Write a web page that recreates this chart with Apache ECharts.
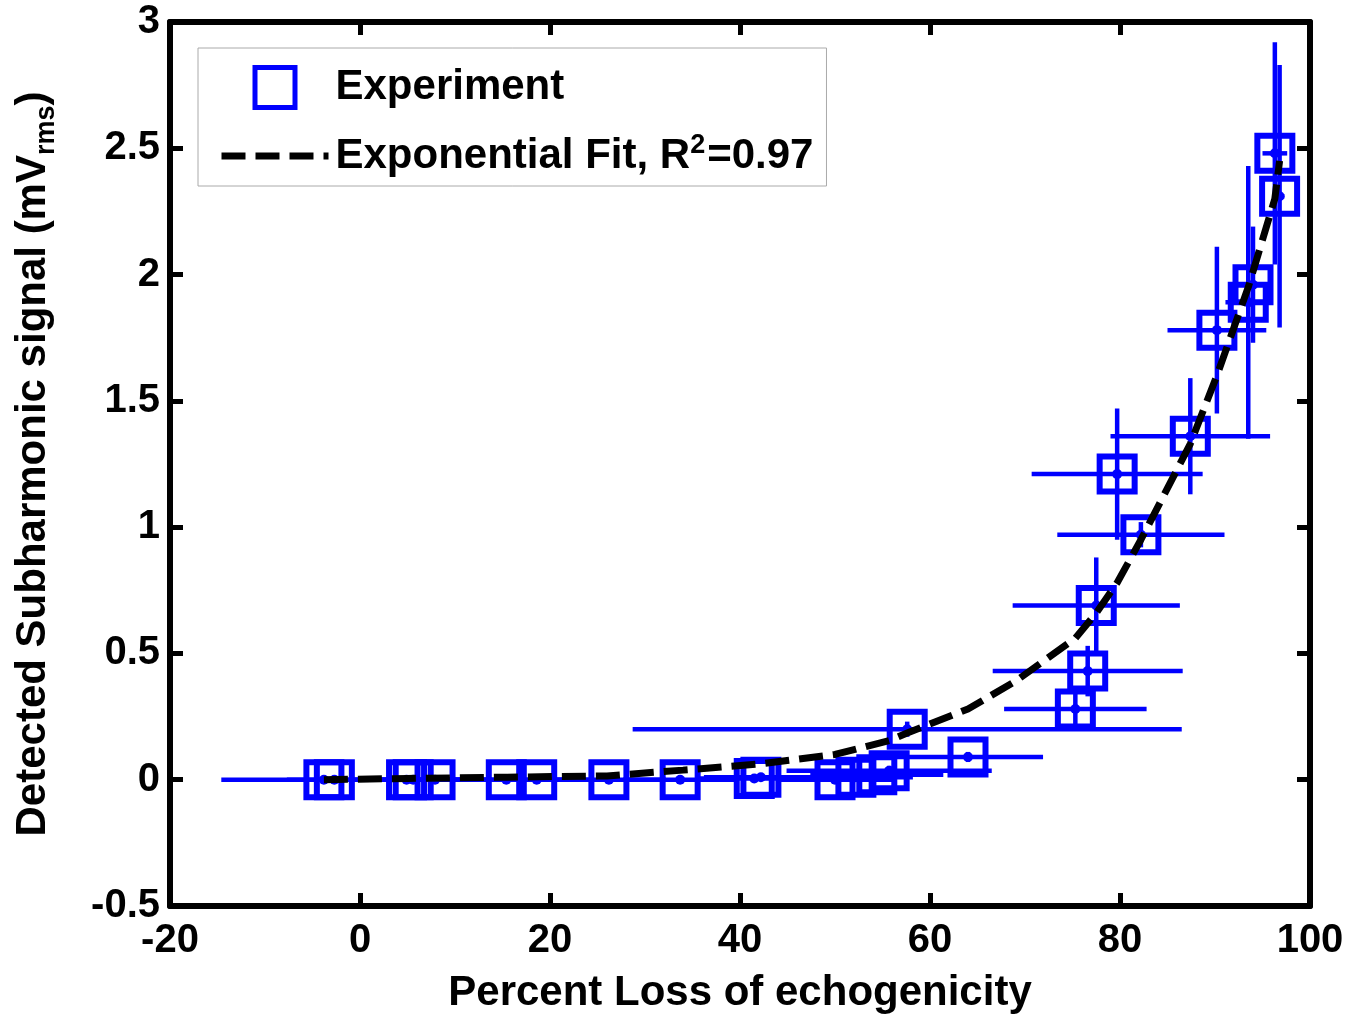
<!DOCTYPE html>
<html>
<head>
<meta charset="utf-8">
<script src="https://cdn.jsdelivr.net/npm/echarts@6/dist/echarts.min.js"></script>
<style>
  html, body { margin: 0; padding: 0; background: #fff; }
  #chart { width: 1363px; height: 1017px; }
</style>
</head>
<body>
<div id="chart"></div>
<script>
// measured points: percent loss, subharmonic signal (mVrms), and their error half-widths
const lossX = [-3.8, -2.7, 4.9, 5.6, 7.9, 15.4, 18.6, 26.2, 33.7, 41.5, 42.2, 50.0, 52.2, 54.4,
  55.7, 57.6, 64.0, 75.3, 76.6, 77.5, 79.7, 82.2, 87.4, 90.2, 93.5, 94.0, 96.3, 96.8];
const signalY = [0.0, 0.0, 0.0, 0.0, 0.0, 0.0, 0.0, 0.0, 0.0, 0.005, 0.01, 0.0, 0.01, 0.02,
  0.035, 0.2, 0.09, 0.28, 0.43, 0.69, 1.21, 0.97, 1.36, 1.78, 1.89, 1.96, 2.48, 2.31];
const lossErr = [10.8, 5, 6, 5, 6, 6, 6, 6, 6, 6, 6, 6, 6, 7,
  10.8, 28.9, 7.9, 7.5, 10, 8.8, 9, 8.8, 8.4, 5.2, 2.4, 1.5, 1.3, 0.5];
const signalErr = [0.01, 0.01, 0.01, 0.01, 0.01, 0.01, 0.01, 0.01, 0.01, 0.01, 0.01, 0.01, 0.01, 0.02,
  0.02, 0.03, 0.02, 0.06, 0.1, 0.19, 0.26, 0.05, 0.23, 0.33, 0.54, 0.23, 0.44, 0.52];

// exponential fit curve
const fitX = [-3.8, 5, 15.5, 26, 34, 42, 50, 55.7, 57.6, 64, 69, 75.3, 77.5, 79.7, 82.2, 87.4, 90.2, 93.5, 96.3, 96.8];
const fitY = [0.0, 0.005, 0.01, 0.015, 0.038, 0.062, 0.1, 0.155, 0.185, 0.28, 0.39, 0.56, 0.66, 0.78, 0.95, 1.33, 1.6, 1.95, 2.3, 2.45];

const FONT = '"Liberation Sans", Arial, sans-serif';
const chart = echarts.init(document.getElementById('chart'));

const errData = lossX.map((x, i) => [x, signalY[i], lossErr[i], signalErr[i]]);
const pointData = lossX.map((x, i) => [x, signalY[i]]);
const fitData = fitX.map((x, i) => [x, fitY[i]]);

const frameLine = { show: true, onZero: false, lineStyle: { color: '#000', width: 6 } };
const frameTick = { show: true, inside: true, length: 13, lineStyle: { color: '#000', width: 5 } };
const tickLabel = { fontSize: 40, fontWeight: 'bold', color: '#000', fontFamily: FONT };
const titleText = { fontSize: 42, fontWeight: 'bold', color: '#000', fontFamily: FONT };

let option = {
  animation: false,
  backgroundColor: '#fff',
  grid: { left: 170, right: 53, top: 22, bottom: 111, outerBoundsMode: 'none', containLabel: false },
  legend: {
    left: 198,
    top: 48,
    orient: 'vertical',
    padding: [17, 13, 9, 20],
    itemGap: 22,
    itemWidth: 107,
    itemHeight: 40,
    borderColor: '#aaa',
    borderWidth: 1,
    backgroundColor: '#fff',
    data: [
      { name: 'Experiment', icon: 'path://M0,0 L10,0 L10,10 L0,10 Z', itemStyle: { borderWidth: 5 } },
      { name: 'Exponential Fit, R2=0.97', lineStyle: { width: 7 } }
    ],
    formatter: function (name) {
      if (name === 'Experiment') return '{a|Experiment}';
      return '{a|Exponential Fit, R}{s|2}{a|=0.97}';
    },
    textStyle: {
      rich: {
        a: Object.assign({ lineHeight: 48, padding: [0, 0, 0, 2] }, titleText),
        s: { fontSize: 27, fontWeight: 'bold', color: '#000', fontFamily: FONT, lineHeight: 20, verticalAlign: 'top' }
      }
    }
  },
  xAxis: [{
    type: 'value',
    min: -20, max: 100, interval: 20,
    position: 'bottom',
    axisLine: frameLine,
    axisTick: frameTick,
    axisLabel: Object.assign({ margin: 15 }, tickLabel),
    splitLine: { show: false },
    name: 'Percent Loss of echogenicity',
    nameLocation: 'middle',
    nameGap: 66,
    nameTextStyle: titleText
  }, {
    type: 'value',
    min: -20, max: 100, interval: 20,
    position: 'top',
    axisLine: frameLine,
    axisTick: frameTick,
    axisLabel: { show: false },
    splitLine: { show: false }
  }],
  yAxis: [{
    type: 'value',
    min: -0.5, max: 3, interval: 0.5,
    position: 'left',
    axisLine: frameLine,
    axisTick: frameTick,
    axisLabel: Object.assign({ margin: 10 }, tickLabel),
    splitLine: { show: false },
    name: '{a|Detected Subharmonic signal (mV}{s|rms}{a|)}',
    nameLocation: 'middle',
    nameRotate: 90,
    nameGap: 110,
    nameTextStyle: {
      rich: {
        a: Object.assign({ lineHeight: 48, verticalAlign: 'top' }, titleText),
        s: { fontSize: 27, fontWeight: 'bold', color: '#000', fontFamily: FONT, lineHeight: 26, verticalAlign: 'bottom', padding: [44, 0, 0, 0] }
      }
    }
  }, {
    type: 'value',
    min: -0.5, max: 3, interval: 0.5,
    position: 'right',
    axisLine: frameLine,
    axisTick: frameTick,
    axisLabel: { show: false },
    splitLine: { show: false }
  }],
  series: [
    {
      // error bars
      type: 'custom',
      name: 'errors',
      data: errData,
      encode: { x: 0, y: 1 },
      z: 2,
      renderItem: function (params, api) {
        const x = api.value(0), y = api.value(1);
        const dx = api.value(2), dy = api.value(3);
        const l = api.coord([x - dx, y]);
        const r = api.coord([x + dx, y]);
        const t = api.coord([x, y + dy]);
        const b = api.coord([x, y - dy]);
        const c = api.coord([x, y]);
        const style = { stroke: '#0000ff', lineWidth: 4.5 };
        return {
          type: 'group',
          children: [
            { type: 'line', shape: { x1: l[0], y1: l[1], x2: r[0], y2: r[1] }, style: style },
            { type: 'line', shape: { x1: t[0], y1: t[1], x2: b[0], y2: b[1] }, style: style },
            { type: 'circle', shape: { cx: c[0], cy: c[1], r: 5 }, style: { fill: '#0000ff' } }
          ]
        };
      }
    },
    {
      name: 'Experiment',
      type: 'scatter',
      data: pointData,
      symbol: 'rect',
      symbolSize: 35,
      z: 3,
      itemStyle: { color: 'rgba(0,0,0,0)', borderColor: '#0000ff', borderWidth: 6, opacity: 1 }
    },
    {
      name: 'Exponential Fit, R2=0.97',
      type: 'line',
      data: fitData,
      symbol: 'none',
      z: 4,
      itemStyle: { color: 'rgba(0,0,0,0)', borderColor: 'rgba(0,0,0,0)' },
      lineStyle: { color: '#000', width: 7, type: [24, 10] }
    }
  ]
};

chart.setOption(option);
</script>
</body>
</html>
